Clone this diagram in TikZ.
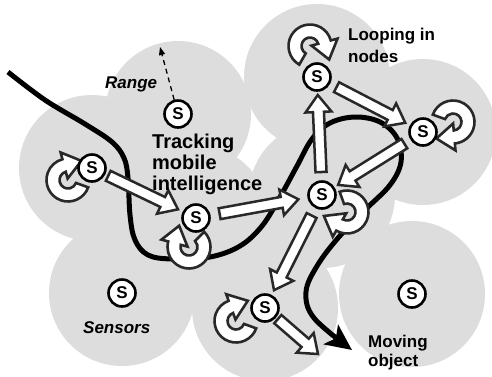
\documentclass[tikz,border=0pt]{standalone}
\usepackage{fontspec}
\setmainfont{Liberation Sans}
\usetikzlibrary{calc,arrows.meta}
\definecolor{zonegray}{RGB}{221,221,221}
\definecolor{edgegray}{RGB}{40,40,40}
\pgfdeclarelayer{zones}
\pgfdeclarelayer{trackl}
\pgfdeclarelayer{arrowsl}
\pgfsetlayers{zones,trackl,arrowsl,main}
\tikzset{
 sensor/.style={circle,draw=black,line width=2.6pt,fill=white,minimum size=27pt,inner sep=0pt,font=\fontsize{17}{17}\selectfont\bfseries},
 zone/.style={fill=zonegray,draw=none},
 barr/.style={fill=white,draw=edgegray,line width=2.5pt,line join=miter},
 loopst/.style={fill=white,draw=edgegray,line width=2.6pt,line join=miter},
 lbl/.style={anchor=base west,inner sep=0pt,font=\fontsize{17}{17}\selectfont\bfseries},
 ilbl/.style={anchor=base west,inner sep=0pt,font=\fontsize{17}{17}\selectfont\bfseries\itshape},
 trk/.style={anchor=base west,inner sep=0pt,font=\fontsize{20}{20}\selectfont\bfseries},
 track/.style={line width=5pt,black,line join=round},
 rangear/.style={line width=1.3pt,dash pattern=on 5pt off 4pt,-{Triangle[length=8pt,width=6pt]}}
}
\newcommand\blockar[4]{%
 \draw[barr] let \p1=($(#1)!#3!(#2)$), \p2=($(#2)!#4!(#1)$), \p3=($(\p2)-(\p1)$), \n1={atan2(\y3,\x3)} in
 ($(\p1)+(\n1+90:5.5pt)$) -- ($(\p2)+(\n1:-17pt)+(\n1+90:5.5pt)$) -- ($(\p2)+(\n1:-17pt)+(\n1+90:13pt)$) -- (\p2) -- ($(\p2)+(\n1:-17pt)+(\n1-90:13pt)$) -- ($(\p2)+(\n1:-17pt)+(\n1-90:5.5pt)$) -- ($(\p1)+(\n1-90:5.5pt)$) -- cycle;}
\newcommand\loopar[3]{%
 \draw[loopst,shift={(#1)}] (#2:21.5pt) arc[start angle=#2,end angle=#3,radius=21.5pt] -- (#3:28.5pt) -- ($(#3:15pt)+(#3-90:18pt)$) -- (#3:1.5pt) -- (#3:8.5pt) arc[start angle=#3,end angle=#2,radius=8.5pt] -- cycle;}
\begin{document}
\begin{tikzpicture}[x=1pt,y=-1pt]
\useasboundingbox (0,0) rectangle (492,376);
\clip (0,0) rectangle (492,376);
% sensors
\node[sensor] (s1) at (178,114) {S};
\node[sensor] (s2) at (92,168) {S};
\node[sensor] (s3) at (196,218) {S};
\node[sensor] (s4) at (122,293) {S};
\node[sensor] (s5) at (317,77) {S};
\node[sensor] (s6) at (423,132) {S};
\node[sensor] (s7) at (322,195) {S};
\node[sensor] (s8) at (265,308) {S};
\node[sensor] (s9) at (412,294) {S};
% ranges
\begin{pgfonlayer}{zones}
\foreach \s in {s1,s2,s3,s4,s5,s6,s7,s8,s9}
 \fill[zone] (\s) circle[radius=73pt];
\end{pgfonlayer}
% moving object track
\begin{pgfonlayer}{trackl}
\draw[track,-{Stealth[length=26pt,width=24pt,inset=6pt]}] plot[smooth,tension=0.6] coordinates {(8,72) (45,100) (85,124) (112,142) (124,158) (128,178) (130,215) (135,240) (148,255) (172,259) (210,257) (240,246) (262,226) (280,197) (297,166) (312,139) (330,123) (355,117) (380,122) (397,138) (401,162) (390,185) (365,210) (338,238) (317,266) (306,292) (314,318) (352,350)};
\end{pgfonlayer}
% migration arrows and loops
\begin{pgfonlayer}{arrowsl}
\coordinate (mvend) at (318,354);
\blockar{s2}{s3}{18pt}{20pt}
\blockar{s3}{s7}{24pt}{24pt}
\blockar{s7}{s5}{23pt}{18pt}
\blockar{s5}{s6}{22pt}{20pt}
\blockar{s6}{s7}{22pt}{19pt}
\blockar{s7}{s8}{23pt}{20pt}
\blockar{s8}{mvend}{17pt}{0pt}
\loopar{68,180}{-20}{-255}
\loopar{189,247}{45}{-195}
\loopar{310,46}{-120}{-345}
\loopar{453,122}{160}{-85}
\loopar{347,212}{110}{-120}
\loopar{236,321}{-20}{-250}
\end{pgfonlayer}
% range indicator
\coordinate (rtip) at (160,47);
\draw[rangear] (s1) -- (rtip);
% labels
\node[ilbl] (range) at (105,88) {Range};
\node[trk] (t1) at (152,148) {Tracking};
\node[trk] (t2) at (152,169) {mobile};
\node[trk] (t3) at (152,190) {intelligence};
\node[lbl] (lp1) at (348,40) {Looping in};
\node[lbl] (lp2) at (348,62) {nodes};
\node[ilbl] (sens) at (83,333) {Sensors};
\node[lbl] (mv1) at (368,347) {Moving};
\node[lbl] (mv2) at (368,366) {object};
\end{tikzpicture}
\end{document}
